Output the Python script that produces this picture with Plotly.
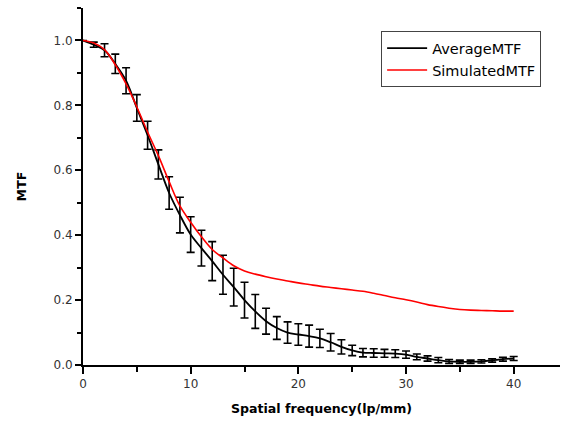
import plotly.graph_objects as go

freq = list(range(0, 41))
avg_mtf = [1.000, 0.987, 0.970, 0.928, 0.876, 0.792, 0.708, 0.618, 0.530, 0.462,
           0.402, 0.360, 0.320, 0.278, 0.240, 0.200, 0.165, 0.135, 0.114, 0.100,
           0.094, 0.089, 0.082, 0.070, 0.056, 0.045, 0.038, 0.037, 0.036, 0.035,
           0.032, 0.025, 0.020, 0.015, 0.011, 0.010, 0.010, 0.011, 0.014, 0.018, 0.020]
avg_err = [0.000, 0.008, 0.020, 0.030, 0.040, 0.041, 0.043, 0.045, 0.050, 0.055,
           0.055, 0.055, 0.060, 0.060, 0.058, 0.055, 0.052, 0.040, 0.035, 0.033,
           0.033, 0.034, 0.028, 0.027, 0.022, 0.016, 0.013, 0.013, 0.012, 0.012,
           0.011, 0.009, 0.008, 0.008, 0.006, 0.005, 0.005, 0.005, 0.005, 0.006, 0.006]
sim_mtf = [1.000, 0.992, 0.972, 0.925, 0.866, 0.795, 0.718, 0.645, 0.565, 0.490,
           0.440, 0.395, 0.356, 0.330, 0.306, 0.290, 0.280, 0.272, 0.265, 0.259,
           0.253, 0.248, 0.243, 0.239, 0.235, 0.231, 0.227, 0.221, 0.214, 0.207,
           0.201, 0.194, 0.186, 0.180, 0.175, 0.171, 0.169, 0.168, 0.167, 0.166, 0.166]

fig = go.Figure()
fig.add_trace(go.Scatter(
    x=freq, y=avg_mtf, mode="lines", name="AverageMTF",
    line=dict(color="black", width=1.8, shape="spline"),
    error_y=dict(type="data", array=avg_err, visible=True, color="black",
                 thickness=1.6, width=4),
))
fig.add_trace(go.Scatter(
    x=freq, y=sim_mtf, mode="lines", name="SimulatedMTF",
    line=dict(color="red", width=1.6, shape="spline"),
))

FONT = "DejaVu Sans, Liberation Sans, Arial, sans-serif"
axis_font = dict(family=FONT, size=12, color="#333333")
title_font = dict(family=FONT, size=12.6, color="black")
fig.update_layout(
    width=572, height=421,
    margin=dict(l=83, r=12, t=8, b=56),
    paper_bgcolor="white", plot_bgcolor="white",
    showlegend=True,
    legend=dict(x=0.625, y=0.935, xanchor="left", yanchor="top",
                bordercolor="#444444", borderwidth=1, bgcolor="white",
                font=dict(family=FONT, size=14.5, color="black"),
                itemwidth=40, tracegroupgap=0),
    xaxis=dict(range=[0, 44.3], showgrid=False, zeroline=False,
               showline=True, linecolor="black", linewidth=2,
               ticks="outside", ticklen=7, tickwidth=2, tickcolor="black",
               dtick=10, tick0=0, tickfont=axis_font,
               minor=dict(ticks="outside", ticklen=5, tickwidth=2, tickcolor="black", dtick=5),
               title=dict(text="<b>Spatial frequency(lp/mm)</b>", font=title_font, standoff=14)),
    yaxis=dict(range=[0, 1.10], showgrid=False, zeroline=False,
               showline=True, linecolor="black", linewidth=2,
               ticks="outside", ticklen=6, tickwidth=2, tickcolor="black",
               dtick=0.2, tick0=0, tickformat=".1f", tickfont=axis_font,
               minor=dict(ticks="outside", ticklen=4, tickwidth=2, tickcolor="black", dtick=0.1),
               title=dict(text="<b>MTF</b>", font=title_font, standoff=24)),
)

fig.write_html("out.html", config={"displayModeBar": False},
               post_script="document.body.style.margin='0';")
